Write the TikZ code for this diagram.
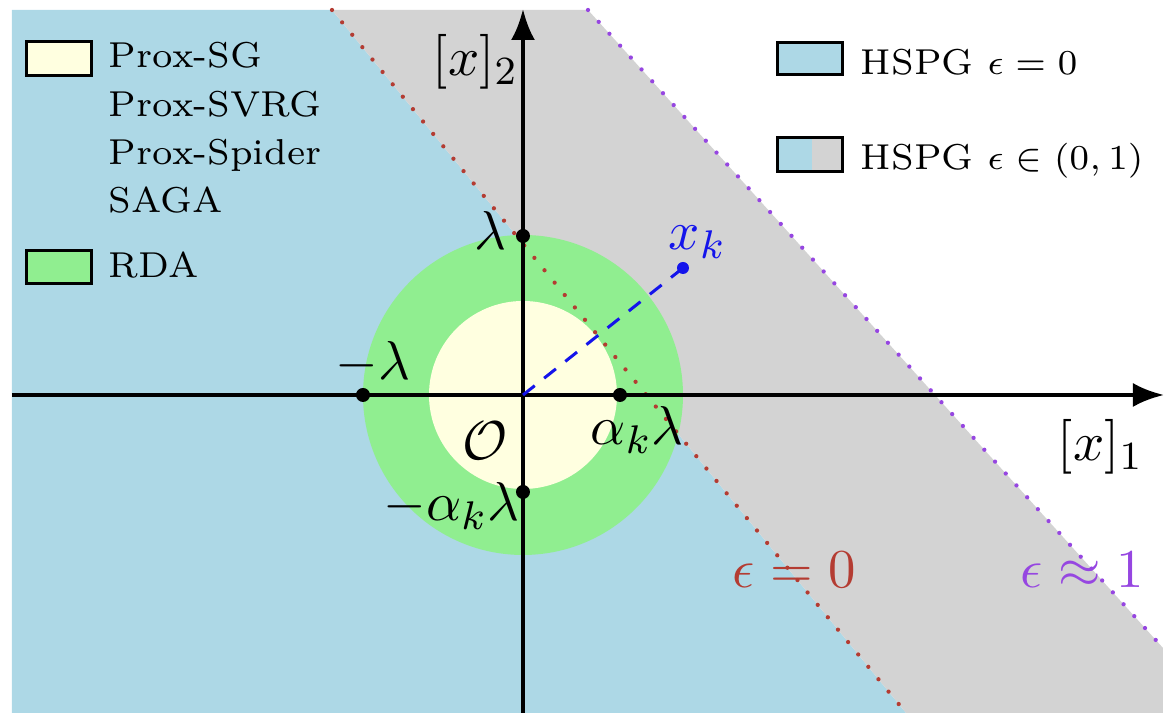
\documentclass[tikz,border=0pt]{standalone}
\usetikzlibrary{arrows.meta}
\definecolor{hblue}{HTML}{ADD8E6}
\definecolor{hgray}{HTML}{D3D3D3}
\definecolor{rgreen}{HTML}{90EE90}
\definecolor{pivory}{HTML}{FFFFE0}
\definecolor{epsred}{RGB}{180,60,50}
\definecolor{epspurple}{RGB}{150,70,225}
\definecolor{xkblue}{RGB}{20,20,235}
\begin{document}
\begin{tikzpicture}[x=0.2pt,y=-0.2pt,
  lab/.style={inner sep=0pt,font=\fontsize{10.95}{13}\selectfont},
  legtext/.style={inner sep=0pt,font=\fontsize{7.2}{8.6}\selectfont,anchor=base west},
  legbox/.style={draw=black,line width=0.6pt},
  axisline/.style={line width=0.85pt,-{Latex[length=6.2pt,width=4.8pt]}},
  pt/.style={circle,fill=black,inner sep=0pt,minimum size=2.8pt},
  bound/.style={line width=0.85pt,line cap=round,dash pattern=on 0pt off 3.2pt}]
\useasboundingbox (0,0) rectangle (1165,715);
% regions
\coordinate (O) at (523,395);
\coordinate (rtop) at (332,10);
\coordinate (rbot) at (906,713);
\coordinate (ptop) at (588,10);
\coordinate (pbot) at (1163,648);
\fill[hblue] (12,10) -- (rtop) -- (rbot) -- (12,713) -- cycle;
\fill[hgray] (rtop) -- (ptop) -- (pbot) -- (1163,713) -- (rbot) -- cycle;
\fill[rgreen] (O) circle[radius=160];
\fill[pivory] (O) circle[radius=94];
% boundaries
\draw[bound,epsred] (rtop) -- (rbot);
\draw[bound,epspurple] (ptop) -- (pbot);
% axes
\coordinate (xs) at (12,395);
\coordinate (xe) at (1164,395);
\coordinate (ys) at (523,713);
\coordinate (ye) at (523,9);
\draw[axisline] (xs) -- (xe);
\draw[axisline] (ys) -- (ye);
% points
\node[pt] (plam) at (523,236) {};
\node[pt] (pmlam) at (363,395) {};
\node[pt] (pak) at (620,395) {};
\node[pt] (pmak) at (523,492) {};
\node[pt,fill=xkblue,minimum size=2.4pt] (xk) at (683,268) {};
\draw[xkblue,line width=0.6pt,dash pattern=on 3pt off 2.4pt] (O) -- (xk.center);
% labels
\node[lab,anchor=base east] (llam) at (507,250) {$\lambda$};
\node[lab,anchor=base west] (lmlam) at (335,380) {$-\lambda$};
\node[lab,anchor=base west] (lak) at (590,445) {$\alpha_k\lambda$};
\node[lab,anchor=base west] (lO) at (462,460) {$\mathcal{O}$};
\node[lab,anchor=base west] (lmak) at (383,521) {$-\alpha_k\lambda$};
\node[lab,anchor=base west,text=xkblue] (lxk) at (668,250) {$x_k$};
\node[lab,anchor=base west] (lx2) at (432,76) {$[x]_2$};
\node[lab,anchor=base west] (lx1) at (1057,461) {$[x]_1$};
\node[lab,anchor=base west,text=epsred] (le0) at (732,588) {$\epsilon=0$};
\node[lab,anchor=base west,text=epspurple] (le1) at (1020,588) {$\epsilon\approx1$};
% legend left
\draw[legbox,fill=pivory] (27,42) rectangle (92,76);
\draw[legbox,fill=rgreen] (27,251) rectangle (92,284);
\node[legtext] (t1) at (108,68) {Prox-SG};
\node[legtext] (t2) at (108,117) {Prox-SVRG};
\node[legtext] (t3) at (108,165) {Prox-Spider};
\node[legtext] (t4) at (108,213) {SAGA};
\node[legtext] (t5) at (108,278) {RDA};
% legend right
\draw[legbox,fill=hblue] (778,43) rectangle (843,75);
\fill[hblue] (778,138) rectangle (812,172);
\fill[hgray] (812,138) rectangle (843,172);
\draw[legbox] (778,138) rectangle (843,172);
\node[legtext] (h1) at (860,75) {HSPG $\epsilon=0$};
\node[legtext] (h2) at (860,170) {HSPG $\epsilon\in(0,1)$};
\end{tikzpicture}
\end{document}
